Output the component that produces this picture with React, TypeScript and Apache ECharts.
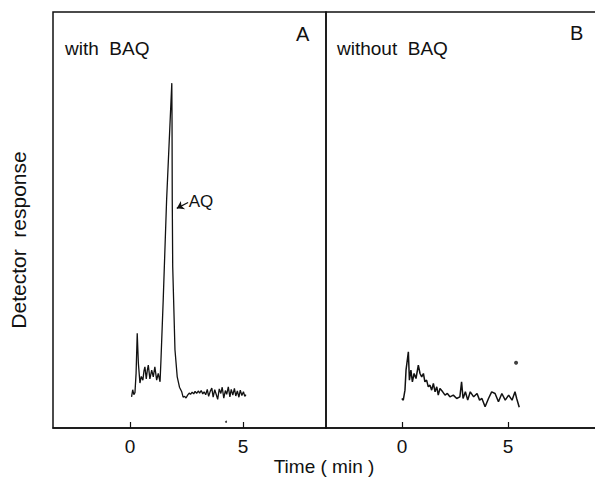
import React, { useEffect, useRef } from "react";
import * as echarts from "echarts";

// Panel A: with BAQ
const timeA = [
  0.07, 0.12, 0.17, 0.22, 0.27, 0.32, 0.37, 0.44, 0.5, 0.57, 0.62, 0.66, 0.72, 0.77, 0.81, 0.88,
  0.96, 1.03, 1.1, 1.18, 1.25, 1.33, 1.37, 1.47, 1.62, 1.85, 1.86, 1.87, 1.89, 1.99, 2.09, 2.19,
  2.29, 2.35, 2.42, 2.48, 2.55, 2.62, 2.68, 2.75, 2.82, 2.88, 2.95, 3.02, 3.08, 3.15, 3.22, 3.28,
  3.35, 3.42, 3.48, 3.55, 3.62, 3.68, 3.75, 3.82, 3.88, 3.95, 4.02, 4.08, 4.15, 4.22, 4.28, 4.35,
  4.42, 4.48, 4.55, 4.62, 4.68, 4.75, 4.82, 4.88, 4.95, 5.02, 5.08, 5.13,
];
const responseA = [
  7.5, 9.2, 8.0, 8.5, 13.2, 22.8, 15.6, 10.8, 12.4, 11.5, 13.8, 14.7, 11.8, 14.0, 15.1, 11.8,
  13.9, 12.3, 14.7, 11.5, 13.1, 11.1, 16.3, 30.8, 54.8, 82.9, 74.0, 54.8, 38.8, 18.8, 12.3, 9.8,
  8.7, 7.4, 7.6, 7.2, 7.9, 8.4, 8.1, 8.6, 8.2, 8.8, 8.3, 8.9, 8.4, 9.0, 8.2, 8.7,
  8.0, 9.3, 7.6, 8.8, 9.6, 7.4, 9.2, 8.0, 6.9, 9.4, 8.3, 9.8, 7.2, 9.0, 8.1, 9.9,
  7.5, 9.3, 7.9, 9.5, 7.7, 8.9, 7.4, 9.1, 7.8, 8.7, 7.6, 8.0,
];
const specksA = [[4.25, 1.5]];

// Panel B: without BAQ
const timeB = [
  -0.01, 0.06, 0.14, 0.19, 0.3, 0.35, 0.42, 0.49, 0.57, 0.66, 0.77, 0.85, 0.93, 1.01, 1.08, 1.16,
  1.24, 1.32, 1.4, 1.48, 1.56, 1.64, 1.71, 1.79, 1.92, 2.03, 2.14, 2.26, 2.42, 2.58, 2.73, 2.81,
  2.88, 2.99, 3.1, 3.22, 3.38, 3.54, 3.66, 3.77, 3.92, 4.08, 4.23, 4.39, 4.55, 4.71, 4.87, 5.03,
  5.19, 5.33, 5.41, 5.53,
];
const responseB = [
  7.1, 6.7, 9.1, 13.9, 18.3, 11.5, 13.9, 11.1, 13.1, 11.9, 15.1, 13.1, 12.3, 13.1, 11.1, 11.5,
  9.9, 10.3, 9.1, 10.7, 8.7, 9.9, 7.9, 9.5, 8.7, 7.9, 8.3, 7.5, 7.9, 7.1, 7.5, 11.1,
  7.1, 8.7, 6.7, 8.7, 7.5, 8.3, 6.7, 7.1, 5.1, 7.1, 8.7, 8.3, 6.3, 8.3, 6.7, 7.9,
  6.7, 8.7, 7.1, 5.0,
];
const specksB = [[5.38, 15.7]];

const tickValues = [0, 5];
const panelTitles = ["with  BAQ", "without  BAQ"];
const panelLetters = ["A", "B"];
const peakLabel = "AQ";

const INK = "#111";
const FONT = "Liberation Sans, Arial, sans-serif";

export default function App() {
  const ref = useRef<HTMLDivElement>(null);
  useEffect(() => {
    if (!ref.current) return;
    const chart = echarts.init(ref.current, null, { renderer: "svg" });
    const gridBase = {
      show: true,
      borderColor: INK,
      borderWidth: 1.5,
      backgroundColor: "transparent",
      top: 12,
      height: 416,
      containLabel: false,
      outerBoundsMode: "none",
    };
    const xAxisBase = {
      type: "value",
      axisLine: { show: true, onZero: false, lineStyle: { color: INK, width: 1.5 } },
      axisTick: { show: true, inside: true, length: 6, customValues: tickValues, lineStyle: { color: INK, width: 1.2 } },
      axisLabel: { show: true, customValues: tickValues, fontSize: 19, color: INK, fontFamily: FONT, margin: 9 },
      splitLine: { show: false },
    };
    const yAxisBase = { type: "value", min: 0, max: 100, show: false };
    chart.setOption({
      animation: false,
      backgroundColor: "#fff",
      grid: [
        { ...gridBase, left: 53, width: 273 },
        { ...gridBase, left: 326, width: 275 },
      ],
      xAxis: [
        { ...xAxisBase, gridIndex: 0, min: -3.407, max: 8.673 },
        { ...xAxisBase, gridIndex: 1, min: -3.585, max: 9.387 },
      ],
      yAxis: [
        { ...yAxisBase, gridIndex: 0 },
        { ...yAxisBase, gridIndex: 1 },
      ],
      series: [
        {
          type: "line",
          xAxisIndex: 0,
          yAxisIndex: 0,
          data: timeA.map((t, i) => [t, responseA[i]]),
          showSymbol: false,
          lineStyle: { color: INK, width: 1.3 },
          markLine: {
            silent: true,
            symbol: ["none", "arrow"],
            symbolSize: 7,
            lineStyle: { color: INK, width: 1.2, type: "solid" },
            label: { show: false },
            data: [[{ coord: [2.57, 54.2] }, { coord: [2.07, 52.8] }]],
          },
          markPoint: {
            silent: true,
            symbol: "circle",
            symbolSize: 0,
            label: {
              show: true,
              formatter: peakLabel,
              position: "right",
              distance: 0,
              fontSize: 17,
              color: INK,
              fontFamily: FONT,
            },
            data: [{ coord: [2.6, 54.5] }],
          },
        },
        {
          type: "scatter",
          xAxisIndex: 0,
          yAxisIndex: 0,
          data: specksA,
          symbolSize: 2,
          itemStyle: { color: INK },
        },
        {
          type: "line",
          xAxisIndex: 1,
          yAxisIndex: 1,
          data: timeB.map((t, i) => [t, responseB[i]]),
          showSymbol: false,
          lineStyle: { color: INK, width: 1.5 },
        },
        {
          type: "scatter",
          xAxisIndex: 1,
          yAxisIndex: 1,
          data: specksB,
          symbolSize: 4,
          itemStyle: { color: INK },
        },
      ],
      graphic: [
        { type: "text", left: 65, top: 39, style: { text: panelTitles[0], fontSize: 19, fill: INK, fontFamily: FONT } },
        { type: "text", left: 296, top: 24, style: { text: panelLetters[0], fontSize: 20, fill: INK, fontFamily: FONT } },
        { type: "text", left: 337, top: 39, style: { text: panelTitles[1], fontSize: 19, fill: INK, fontFamily: FONT } },
        { type: "text", left: 570, top: 23, style: { text: panelLetters[1], fontSize: 20, fill: INK, fontFamily: FONT } },
        {
          type: "text",
          x: 18,
          y: 240,
          rotation: Math.PI / 2,
          style: {
            text: "Detector  response",
            fontSize: 21,
            fill: INK,
            fontFamily: FONT,
            align: "center",
            verticalAlign: "middle",
          },
        },
        {
          type: "text",
          x: 324,
          y: 466,
          style: {
            text: "Time ( min )",
            fontSize: 19,
            fill: INK,
            fontFamily: FONT,
            align: "center",
            verticalAlign: "middle",
          },
        },
      ],
    });
    return () => chart.dispose();
  }, []);
  return (
    <div
      ref={ref}
      style={{ position: "fixed", left: 0, top: 0, width: 595, height: 478, background: "#fff" }}
    />
  );
}
